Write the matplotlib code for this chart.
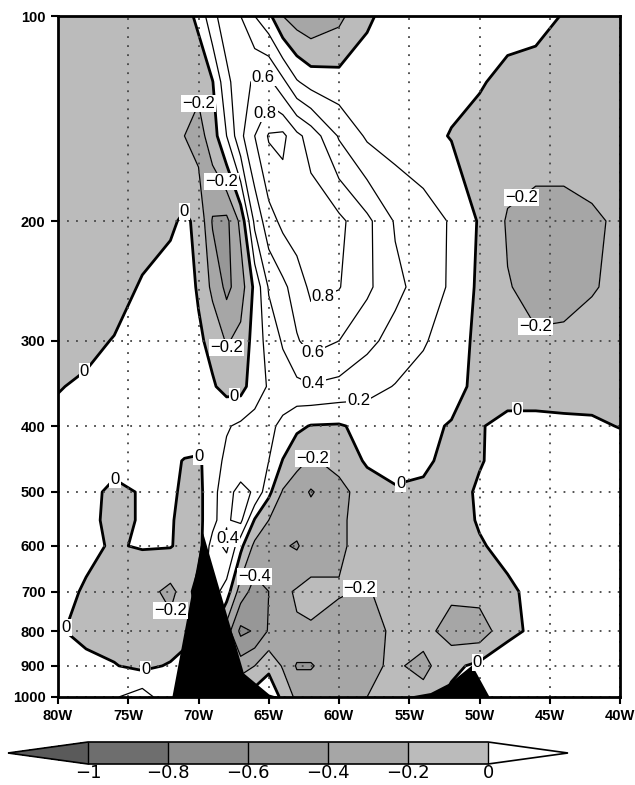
import numpy as np
import matplotlib.pyplot as plt
from matplotlib.colors import ListedColormap, BoundaryNorm
from matplotlib.ticker import NullLocator

# grid of the section (longitude, pressure)
lons = [-80, -78, -76, -74, -72, -71, -70, -69, -68, -67, -66, -65, -64, -63,
        -62, -60, -58, -56, -54, -52, -50, -48, -46, -44, -42, -40]
levs = [100, 125, 150, 200, 250, 300, 350, 400, 450, 500, 550, 600, 700, 800, 900, 1000]

# anomaly values, one row per level
p100 = [-0.10, -0.10, -0.10, -0.10, -0.09, -0.08, 0.05, 0.35, 0.50, 0.40, 0.20, 0.05, -0.20, -0.30,
        -0.35, -0.25, -0.03, 0.08, 0.10, 0.10, 0.10, 0.08, 0.06, -0.01, -0.10, -0.10]
p125 = [-0.12, -0.12, -0.12, -0.12, -0.12, -0.14, -0.15, -0.01, 0.35, 0.52, 0.63, 0.65, 0.45, 0.22,
        0.12, 0.08, 0.10, 0.12, 0.10, 0.05, 0.02, -0.06, -0.08, -0.10, -0.10, -0.10]
p150 = [-0.12, -0.12, -0.12, -0.12, -0.15, -0.20, -0.28, -0.10, 0.20, 0.55, 0.80, 1.02, 1.05, 0.85,
        0.72, 0.38, 0.17, 0.12, 0.06, -0.01, -0.08, -0.10, -0.10, -0.10, -0.10, -0.10]
p200 = [-0.12, -0.12, -0.10, -0.08, -0.03, 0.03, -0.04, -0.42, -0.45, -0.15, 0.45, 0.72, 0.85, 0.90,
        0.92, 0.85, 0.65, 0.38, 0.30, 0.18, -0.02, -0.22, -0.28, -0.28, -0.23, -0.17]
p250 = [-0.10, -0.10, -0.08, 0.02, 0.08, 0.08, -0.02, -0.25, -0.45, -0.30, 0.05, 0.42, 0.55, 0.70,
        0.84, 0.81, 0.64, 0.45, 0.32, 0.17, -0.04, -0.19, -0.25, -0.25, -0.21, -0.17]
p300 = [-0.08, -0.05, 0.01, 0.05, 0.08, 0.06, 0.03, -0.05, -0.22, -0.14, 0.08, 0.28, 0.42, 0.58,
        0.68, 0.60, 0.45, 0.33, 0.22, 0.10, -0.05, -0.15, -0.18, -0.17, -0.15, -0.12]
p350 = [-0.01, 0.03, 0.06, 0.08, 0.10, 0.10, 0.07, 0.02, -0.06, -0.07, 0.10, 0.22, 0.30, 0.35,
        0.38, 0.34, 0.27, 0.19, 0.12, 0.05, -0.04, -0.06, -0.06, -0.06, -0.05, -0.05]
p400 = [0.05, 0.06, 0.08, 0.08, 0.10, 0.12, 0.15, 0.18, 0.18, 0.24, 0.28, 0.24, 0.16, 0.04,
        -0.01, -0.02, 0.06, 0.06, 0.03, -0.01, -0.01, 0.04, 0.04, 0.03, 0.02, -0.005]
p450 = [0.05, 0.05, 0.04, 0.05, 0.04, -0.01, -0.03, 0.10, 0.25, 0.30, 0.30, 0.20, -0.01, -0.15,
        -0.22, -0.15, 0.03, 0.06, 0.03, -0.05, -0.01, 0.05, 0.06, 0.07, 0.07, 0.07]
p500 = [0.05, 0.04, -0.03, 0.01, 0.02, -0.02, -0.05, 0.12, 0.35, 0.45, 0.38, 0.05, -0.22, -0.30,
        -0.42, -0.25, -0.12, -0.02, -0.03, -0.06, 0.02, 0.05, 0.06, 0.07, 0.07, 0.07]
p550 = [0.03, 0.03, -0.03, 0.01, 0.01, -0.03, -0.05, 0.12, 0.38, 0.45, -0.02, -0.20, -0.28, -0.32,
        -0.30, -0.22, -0.15, -0.10, -0.08, -0.05, 0.01, 0.04, 0.05, 0.06, 0.06, 0.06]
p600 = [0.04, 0.02, -0.01, 0.01, 0.01, -0.05, -0.10, 0.30, 0.45, 0.05, -0.25, -0.30, -0.38, -0.42,
        -0.30, -0.22, -0.15, -0.12, -0.10, -0.05, -0.01, 0.03, 0.05, 0.05, 0.05, 0.05]
p700 = [0.03, -0.01, -0.08, -0.12, -0.25, -0.12, 0.10, 0.30, 0.10, -0.30, -0.48, -0.40, -0.24, -0.18,
        -0.15, -0.19, -0.21, -0.15, -0.10, -0.15, -0.12, -0.02, 0.03, 0.04, 0.04, 0.04]
p800 = [0.01, -0.03, -0.08, -0.12, -0.14, -0.10, 0.00, 0.00, -0.30, -0.65, -0.58, -0.38, -0.25, -0.22,
        -0.22, -0.25, -0.28, -0.16, -0.12, -0.30, -0.32, -0.05, 0.04, 0.05, 0.05, 0.05]
p900 = [0.05, 0.03, 0.01, -0.05, 0.02, 0.10, 0.00, -0.20, -0.30, -0.30, -0.20, -0.05, -0.22, -0.42,
        -0.42, -0.25, -0.24, -0.17, -0.26, -0.05, 0.05, 0.12, 0.08, 0.06, 0.05, 0.05]
p1000 = [0.05, 0.10, 0.18, 0.30, 0.05, 0.05, 0.05, 0.05, 0.05, 0.05, 0.10, 0.15, -0.05, -0.25,
         -0.25, -0.22, -0.20, -0.10, -0.12, 0.05, 0.10, 0.20, 0.10, 0.05, 0.05, 0.05]

# topography (surface pressure) drawn in black
topo1_lon = [-71.9, -69.7, -66.8, -65.0, -64.3]
topo1_p = [1000, 574, 922, 990, 1000]
topo2_lon = [-55.3, -53.5, -52.1, -50.55, -49.3]
topo2_p = [1000, 985, 952, 897, 1000]

shade_levels = [-1.0, -0.8, -0.6, -0.4, -0.2, 0.0]
line_levels = [-1.0, -0.8, -0.6, -0.4, -0.2, 0.0, 0.2, 0.4, 0.6, 0.8, 1.0]

# where the contour labels sit (lon, hPa)
label_pos = [(-69.75, 131), (-68.6, 180), (-70.8, 188), (-65.4, 125), (-65.4, 136),
             (-61.0, 266), (-61.9, 311), (-61.9, 340), (-58.6, 369), (-67.4, 315),
             (-67.4, 376), (-77.6, 347), (-47.3, 171), (-46.2, 294), (-47.3, 366),
             (-75.4, 466), (-69.75, 441), (-67.6, 584), (-61.85, 446), (-65.2, 644),
             (-55.1, 513), (-58.5, 692), (-78.7, 792), (-72.4, 760), (-73.1, 935),
             (-50.7, 875)]

field = np.array([p100, p125, p150, p200, p250, p300, p350, p400, p450,
                  p500, p550, p600, p700, p800, p900, p1000])
X, P = np.meshgrid(lons, levs)

cmap = ListedColormap(['#6e6e6e', '#8b8b8b', '#979797', '#a6a6a6', '#bbbbbb'])
cmap.set_under('#5a5a5a')
cmap.set_over('white')
norm = BoundaryNorm(shade_levels, cmap.N)

fig = plt.figure(figsize=(6.35, 7.85), dpi=100)
ax = fig.add_axes([58/635, 1-697/785, 562/635, 681/785])

cf = ax.contourf(X, P, field, levels=shade_levels, cmap=cmap, norm=norm, extend='both', zorder=1)
lw = [2.0 if abs(v) < 1e-9 else 0.9 for v in line_levels]
cs = ax.contour(X, P, field, levels=line_levels, colors='k', linewidths=lw, linestyles='solid', zorder=2)

ax.fill_between(topo1_lon, topo1_p, 1000, color='black', lw=0, zorder=3)
ax.fill_between(topo2_lon, topo2_p, 1000, color='black', lw=0, zorder=3)

def fmt(v):
    if abs(v) < 1e-9:
        return '0'
    return ('%g' % v).replace('-', '\u2212')

labels = ax.clabel(cs, manual=label_pos, inline=False, fmt=fmt, fontsize=12)
for t in labels:
    t.set_rotation(0)
    t.set_zorder(5)
    t.set_family('Liberation Sans')
    t.set_bbox(dict(boxstyle='square,pad=0.06', fc='white', ec='none'))

ax.set_yscale('log')
ax.set_ylim(1000, 100)
ax.set_xlim(-80, -40)
ax.set_yticks([100, 200, 300, 400, 500, 600, 700, 800, 900, 1000])
ax.set_yticklabels(['100', '200', '300', '400', '500', '600', '700', '800', '900', '1000'])
ax.yaxis.set_minor_locator(NullLocator())
ax.set_xticks(range(-80, -39, 5))
ax.set_xticklabels(['80W', '75W', '70W', '65W', '60W', '55W', '50W', '45W', '40W'])
ax.tick_params(direction='out', length=5, width=1.5, labelsize=10.5, pad=4)
for t in ax.get_xticklabels() + ax.get_yticklabels():
    t.set_fontweight('bold')
    t.set_family('Liberation Sans')
ax.grid(True, linestyle=(0, (1, 4)), color='#444444', lw=1.3)
ax.set_axisbelow(False)
for s in ax.spines.values():
    s.set_linewidth(2)
    s.set_zorder(6)

cax = fig.add_axes([8/635, 1-764/785, 560/635, 22/785])
cb = fig.colorbar(cf, cax=cax, orientation='horizontal', extendfrac=0.2,
                  ticks=shade_levels, drawedges=True)
cb.ax.set_xticklabels(['\u22121', '\u22120.8', '\u22120.6', '\u22120.4', '\u22120.2', '0'])
cb.ax.tick_params(length=0, labelsize=13, pad=0)
cb.outline.set_linewidth(1.2)
cb.dividers.set_linewidth(1.0)

fig.savefig('out.png', dpi=100)
